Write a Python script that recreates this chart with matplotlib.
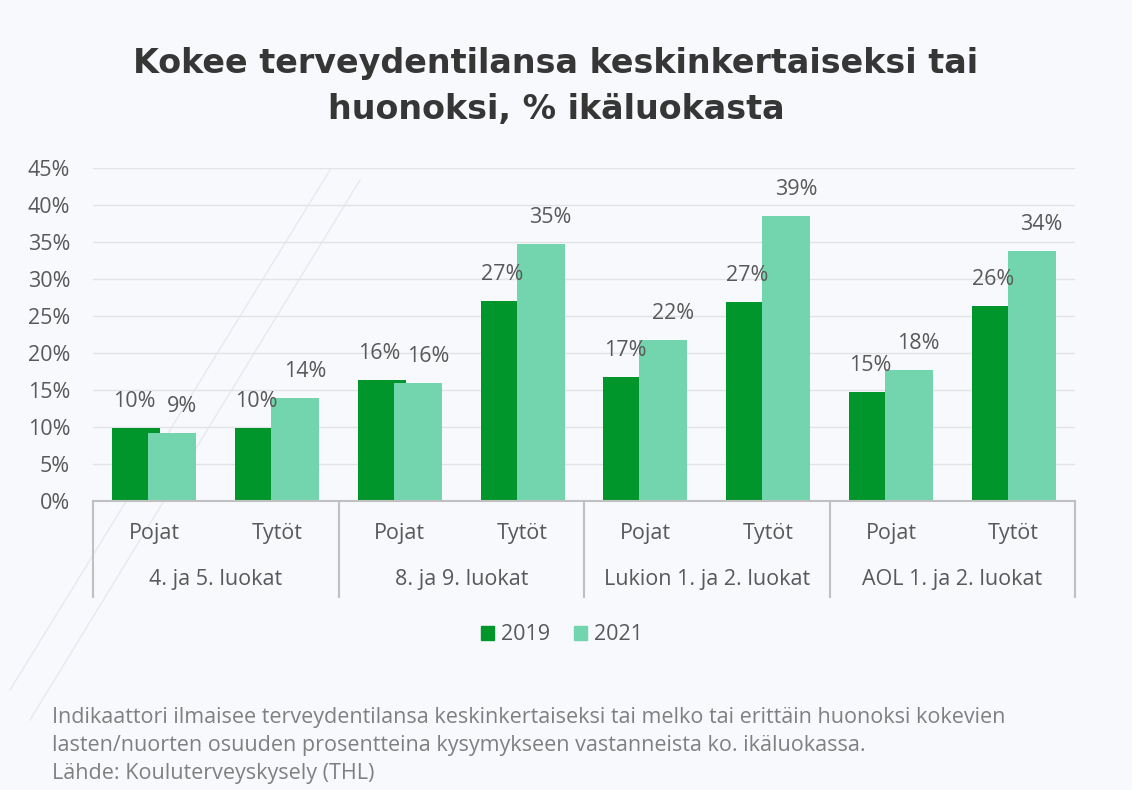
#!/usr/bin/env python3
"""Kokee terveydentilansa keskinkertaiseksi tai huonoksi -pylväskaavio."""

import matplotlib

matplotlib.use("Agg")
import matplotlib.pyplot as plt
from matplotlib.lines import Line2D
from matplotlib.patches import Patch

GROUPS = ["4. ja 5. luokat", "8. ja 9. luokat", "Lukion 1. ja 2. luokat", "AOL 1. ja 2. luokat"]
SEXES = ["Pojat", "Tytöt"]
VALUES_2019 = [9.9, 9.9, 16.4, 27.0, 16.8, 26.9, 14.7, 26.4]
VALUES_2021 = [9.2, 13.9, 15.9, 34.7, 21.8, 38.5, 17.7, 33.8]
LABELS_2019 = ["10%", "10%", "16%", "27%", "17%", "27%", "15%", "26%"]
LABELS_2021 = ["9%", "14%", "16%", "35%", "22%", "39%", "18%", "34%"]
Y_TICKS = [0, 5, 10, 15, 20, 25, 30, 35, 40, 45]

TITLE = "Kokee terveydentilansa keskinkertaiseksi tai\nhuonoksi, % ikäluokasta"
NOTE = [
    "Indikaattori ilmaisee terveydentilansa keskinkertaiseksi tai melko tai erittäin huonoksi kokevien",
    "lasten/nuorten osuuden prosentteina kysymykseen vastanneista ko. ikäluokassa.",
    "Lähde: Kouluterveyskysely (THL)",
]

GREEN_DARK = "#00962c"
GREEN_LIGHT = "#72d5ad"
TEXT = "#595959"
FS = 15.5
W, H = 1132, 790

plt.rcParams["font.family"] = ["Open Sans", "DejaVu Sans"]


def main() -> None:
    fig = plt.figure(figsize=(W / 100, H / 100), dpi=100, facecolor="#f7f9fc")

    # faint diagonal streaks of the slide background
    for x0, y0, x1, y1 in [(10, 690, 330, 170), (30, 720, 360, 180)]:
        fig.add_artist(Line2D([x0 / W, x1 / W], [1 - y0 / H, 1 - y1 / H],
                              color="#e6eaf0", lw=1.0, zorder=0))

    left, right, bottom, top = 93, 1075, 501, 168
    ax = fig.add_axes([left / W, 1 - bottom / H, (right - left) / W, (bottom - top) / H])
    ax.set_facecolor("none")

    n = len(VALUES_2019)
    xs = list(range(n))
    width, offset = 0.39, 0.147
    ax.bar([x - offset for x in xs], VALUES_2019, width, color=GREEN_DARK, zorder=2)
    ax.bar([x + offset for x in xs], VALUES_2021, width, color=GREEN_LIGHT, zorder=3)

    for x, v, lab in zip(xs, VALUES_2019, LABELS_2019):
        ax.annotate(lab, (x - offset - 0.02, v), xytext=(0, 19), textcoords="offset points",
                    ha="center", va="center", fontsize=FS, color=TEXT, zorder=4)
    for x, v, lab in zip(xs, VALUES_2021, LABELS_2021):
        ax.annotate(lab, (x + offset + 0.08, v), xytext=(0, 19), textcoords="offset points",
                    ha="center", va="center", fontsize=FS, color=TEXT, zorder=4)

    ax.set_xlim(-0.5, n - 0.5)
    ax.set_ylim(0, 45)
    ax.set_yticks(Y_TICKS)
    ax.set_yticklabels([f"{t}%" for t in Y_TICKS], fontsize=FS, color=TEXT)
    ax.tick_params(axis="y", length=0, pad=16.5)
    ax.set_xticks([])
    ax.grid(axis="y", color="#e3e3e3", lw=1.0, zorder=0)
    for side in ["top", "right", "left"]:
        ax.spines[side].set_visible(False)
    ax.spines["bottom"].set_color("#c0c0c0")
    ax.spines["bottom"].set_linewidth(1.5)
    ax.spines["bottom"].set_zorder(5)

    # two-level category axis
    tr = ax.get_xaxis_transform()
    axh = bottom - top
    for i in range(n):
        ax.text(i, -(533 - bottom) / axh, SEXES[i % 2], transform=tr, ha="center",
                va="center", fontsize=FS, color=TEXT)
    for g, name in enumerate(GROUPS):
        ax.text(2 * g + 0.5, -(580 - bottom) / axh, name, transform=tr, ha="center",
                va="center", fontsize=FS, color=TEXT)
    for b in range(len(GROUPS) + 1):
        ax.add_line(Line2D([2 * b - 0.5] * 2, [0, -(597 - bottom) / axh], transform=tr,
                           color="#c0c0c0", lw=1.5, clip_on=False))

    handles = [Patch(color=GREEN_DARK, label="2019"), Patch(color=GREEN_LIGHT, label="2021")]
    fig.legend(handles=handles, loc="center", bbox_to_anchor=(562 / W, 1 - 635 / H),
               ncol=2, frameon=False, fontsize=FS, handlelength=0.6, handleheight=0.6,
               handletextpad=0.35, columnspacing=1.1, labelcolor=TEXT)

    fig.text(556 / W, 1 - 86 / H, TITLE, ha="center", va="center", fontsize=24,
             fontweight="bold", family="DejaVu Sans", color="#363636", linespacing=1.5)

    for k, line in enumerate(NOTE):
        fig.text(52 / W, 1 - (718 + 28 * k) / H, line, ha="left", va="center",
                 fontsize=FS, color="#808080")

    fig.savefig("out.png", dpi=100, facecolor=fig.get_facecolor())
    plt.close(fig)


if __name__ == "__main__":
    main()
